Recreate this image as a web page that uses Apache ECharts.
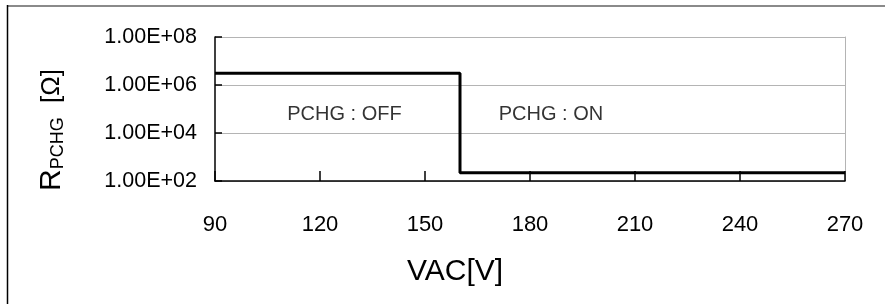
<!DOCTYPE html>
<html>
<head>
<meta charset="utf-8">
<script src="https://cdn.jsdelivr.net/npm/echarts@6/dist/echarts.min.js"></script>
<style>html,body{margin:0;padding:0;background:#fff}#c{width:885px;height:304px}</style>
</head>
<body>
<div id="c"></div>
<script>
// Step curve (VAC [V], R [Ohm])
const vac = [90, 160, 160, 270];
const resistance = [3.1e6, 3.1e6, 220, 220];
// Axis ticks
const xTicks = [90, 120, 150, 180, 210, 240, 270];
const yTicks = [1e2, 1e4, 1e6, 1e8];
// Annotations
const noteX = [127, 186];
const noteY = [5.8e4, 5.8e4];
const noteText = ['PCHG : OFF', 'PCHG : ON'];

const FONT = 'Liberation Sans, Arial, sans-serif';
const chart = echarts.init(document.getElementById('c'), null, {renderer: 'canvas'});

function fmtExp(v) {
  const e = Math.round(Math.log10(v));
  const m = v / Math.pow(10, e);
  return m.toFixed(2) + 'E' + (e >= 0 ? '+' : '-') + String(Math.abs(e)).padStart(2, '0');
}

chart.setOption({
  animation: false,
  backgroundColor: '#fff',
  grid: {left: 215, right: 40, top: 37, bottom: 123, containLabel: false},
  xAxis: {
    type: 'value',
    min: xTicks[0], max: xTicks[xTicks.length - 1], interval: xTicks[1] - xTicks[0],
    axisLine: {show: true, onZero: false, lineStyle: {color: '#000', width: 1.5}},
    axisTick: {show: true, inside: true, length: 10, lineStyle: {color: '#000', width: 1.5}},
    axisLabel: {margin: 33, color: '#000', fontSize: 22, fontFamily: FONT},
    splitLine: {show: false}
  },
  yAxis: [{
    type: 'log', logBase: 10,
    min: yTicks[0], max: yTicks[yTicks.length - 1], interval: 2,
    axisLine: {show: true, lineStyle: {color: '#000', width: 1.5}},
    axisTick: {show: true, inside: true, length: 7, lineStyle: {color: '#000', width: 1.5}},
    axisLabel: {margin: 18, color: '#000', fontSize: 21.5, fontFamily: FONT, formatter: fmtExp},
    splitLine: {show: true, lineStyle: {color: '#b4b4b4', width: 1}},
    minorTick: {show: false}, minorSplitLine: {show: false}
  }, {
    type: 'log', logBase: 10, position: 'right',
    min: yTicks[0], max: yTicks[yTicks.length - 1], interval: 2,
    axisLine: {show: true, lineStyle: {color: '#b4b4b4', width: 1}},
    axisTick: {show: false}, axisLabel: {show: false}, splitLine: {show: false}
  }],
  series: [{
    type: 'line',
    data: vac.map((x, i) => [x, resistance[i]]),
    showSymbol: false, symbol: 'none',
    lineStyle: {color: '#000', width: 3},
    z: 5
  }, {
    type: 'scatter',
    symbolSize: 0,
    data: noteX.map((x, i) => ({value: [x, noteY[i]], name: noteText[i]})),
    label: {show: true, position: 'inside', formatter: p => p.name,
            color: '#000', fontSize: 20, fontFamily: FONT},
    silent: true
  }],
  graphic: [
    {type: 'line', shape: {x1: 7, y1: 6, x2: 885, y2: 6}, style: {stroke: '#8a8a8a', lineWidth: 2}},
    {type: 'line', shape: {x1: 7.5, y1: 5, x2: 7.5, y2: 304}, style: {stroke: '#000', lineWidth: 1.5}},
    {type: 'text', x: 455, y: 272,
     style: {text: 'VAC[V]', fill: '#000', font: '30px ' + FONT, textAlign: 'center', textVerticalAlign: 'middle'}},
    {type: 'text', x: 52, y: 130, rotation: Math.PI / 2,
     style: {text: '{a|R}{b|PCHG}{c|  [Ω]}', textAlign: 'center', textVerticalAlign: 'middle',
       rich: {
         a: {fontSize: 30, fontFamily: FONT, fill: '#000', color: '#000'},
         b: {fontSize: 18, fontFamily: FONT, fill: '#000', color: '#000', verticalAlign: 'bottom'},
         c: {fontSize: 26, fontFamily: FONT, fill: '#000', color: '#000'}
       }}}
  ]
});
</script>
</body>
</html>
